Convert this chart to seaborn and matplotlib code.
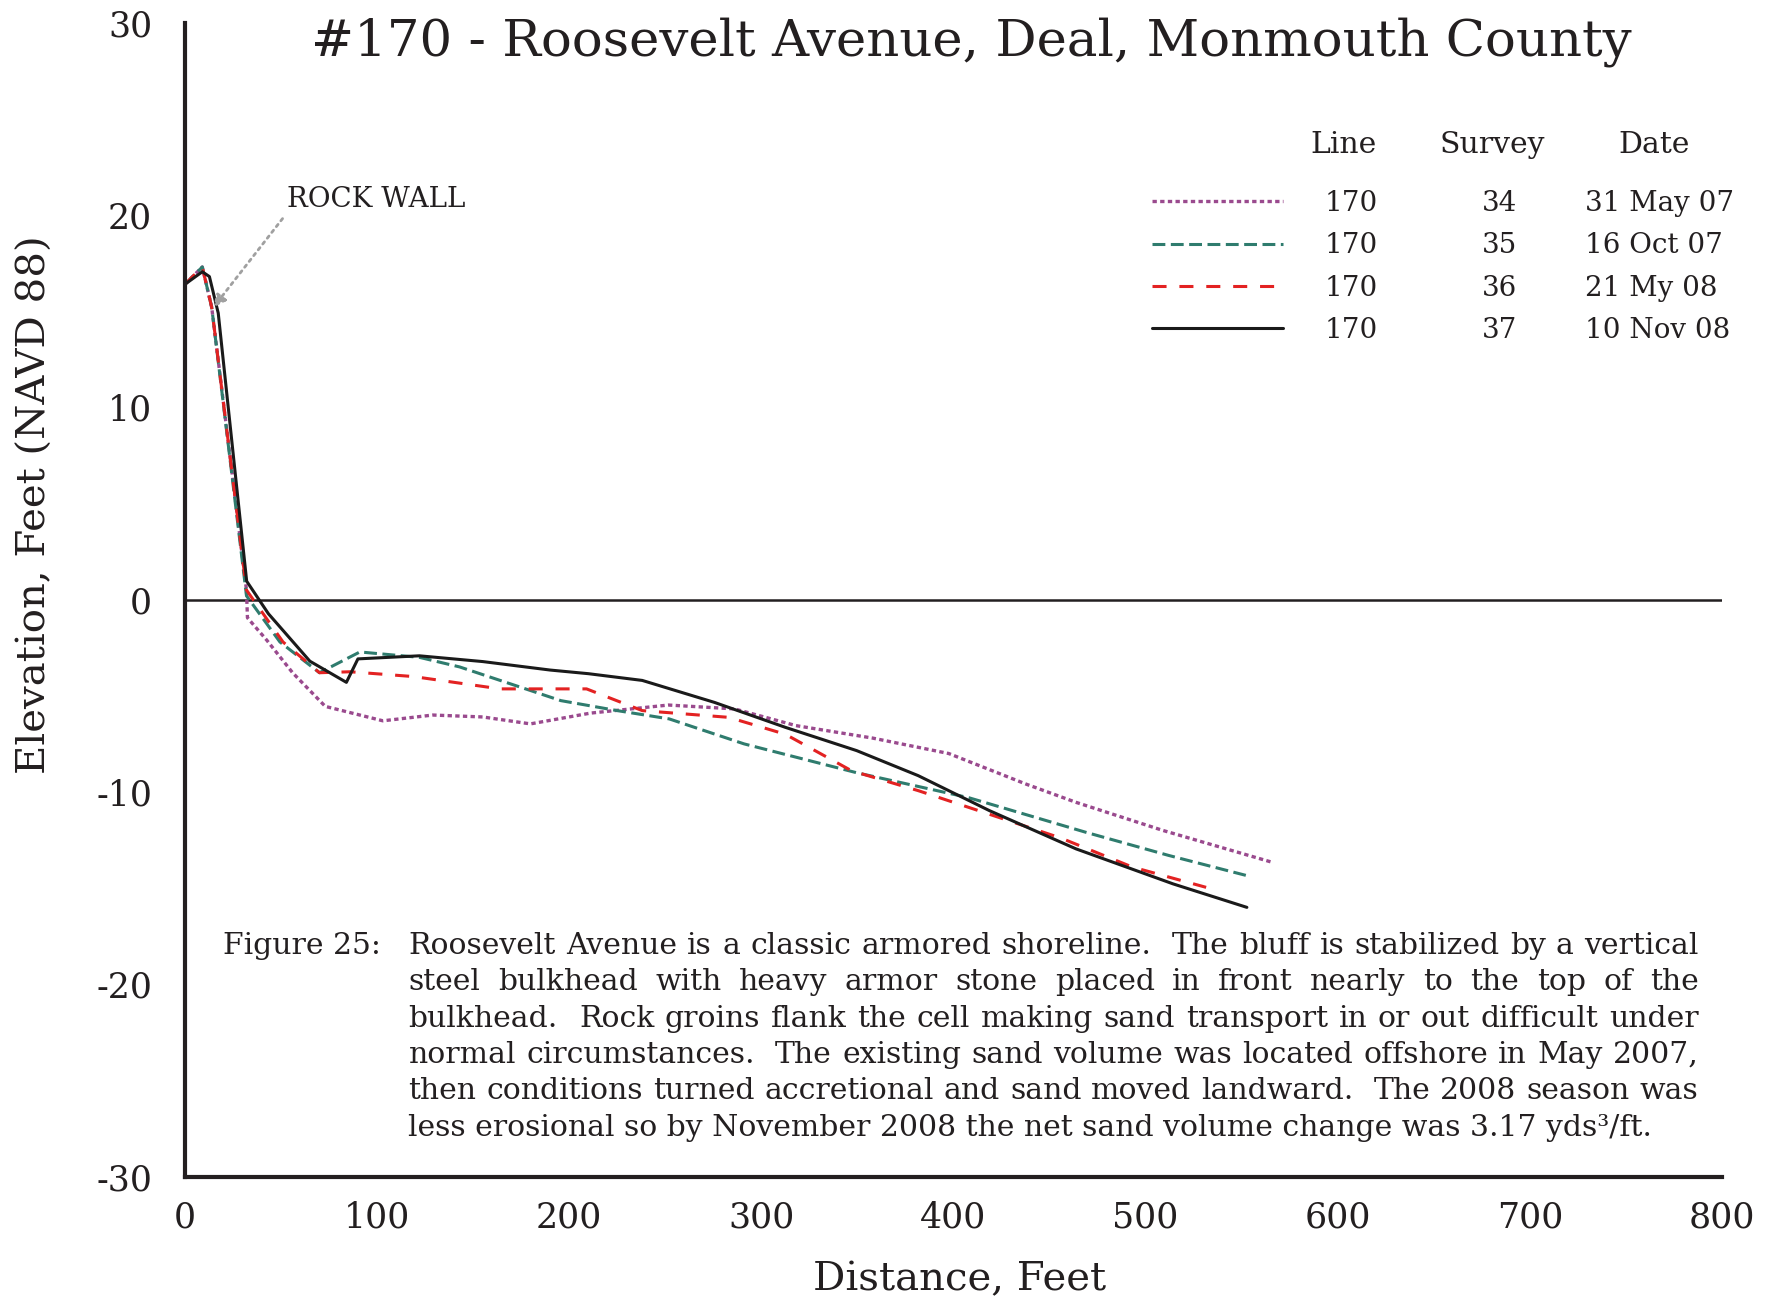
import re
import numpy as np
import matplotlib
matplotlib.use("Agg")
import matplotlib.pyplot as plt
import seaborn as sns

# survey profiles, line 170 (distance ft, elevation ft NAVD88)
dist_34 = [0, 9, 13.9, 32, 32.5, 42.5, 56, 73, 103, 129, 155, 179.8, 211, 251.6, 286, 318, 358, 397.5, 438, 463.8, 509, 566]
elev_34 = [16.4, 17.3, 15.2, 0.5, -0.94, -2.1, -3.8, -5.55, -6.3, -6.0, -6.1, -6.46, -5.9, -5.48, -5.68, -6.55, -7.2, -8.0, -9.6, -10.54, -12.0, -13.66]

dist_35 = [0, 9, 13.9, 32, 49.4, 70, 91, 122, 143, 195.6, 225, 252, 291, 349.6, 408, 469, 512, 552.7]
elev_35 = [16.4, 17.3, 15.2, 0.2, -2.2, -3.8, -2.72, -3.0, -3.5, -5.25, -5.77, -6.2, -7.5, -9.0, -10.3, -12.1, -13.3, -14.35]

dist_36 = [0, 9, 13.9, 32, 51, 70, 86, 119, 164, 209, 238, 283, 312.5, 347, 381.6, 413, 456, 493, 531.5]
elev_36 = [16.4, 17.3, 15.2, 0.5, -2.2, -3.8, -3.75, -4.0, -4.64, -4.64, -5.77, -6.12, -7.0, -8.9, -9.93, -10.97, -12.4, -13.9, -14.96]

dist_37 = [0, 9, 12.7, 17.3, 32.1, 43.4, 65, 84, 90, 122, 155, 190, 210, 238, 275.5, 312.5, 349.6, 381.6, 418.7, 463.8, 514.3, 552.7]
elev_37 = [16.4, 17.05, 16.8, 14.9, 0.96, -0.73, -3.2, -4.3, -3.08, -2.92, -3.22, -3.66, -3.85, -4.2, -5.34, -6.64, -7.85, -9.15, -10.97, -12.96, -14.78, -16.0]

line_ids = ["170", "170", "170", "170"]
surveys = ["34", "35", "36", "37"]
dates = ["31 May 07", "16 Oct 07", "21 My 08", "10 Nov 08"]

x_ticks = [0, 100, 200, 300, 400, 500, 600, 700, 800]
y_ticks = [-30, -20, -10, 0, 10, 20, 30]

caption = [
    "Roosevelt Avenue is a classic armored shoreline.  The bluff is stabilized by a vertical",
    "steel bulkhead with heavy armor stone placed in front nearly to the top of the",
    "bulkhead.  Rock groins flank the cell making sand transport in or out difficult under",
    "normal circumstances.  The existing sand volume was located offshore in May 2007,",
    "then conditions turned accretional and sand moved landward.  The 2008 season was",
    "less erosional so by November 2008 the net sand volume change was 3.17 yds\u00b3/ft.",
]

sns.set_style("white")
plt.rcParams["font.family"] = ["DejaVu Serif"]
ink = "#231f20"

W, H = 1779, 1301
fig = plt.figure(figsize=(W / 100, H / 100), dpi=100)
ax = fig.add_axes([185 / W, 1 - 1176.6 / H, 1537 / W, 1153.9 / H])

styles = [
    (dist_34, elev_34, "#9a4a8e", (0, (1.3, 1.0)), 2.4),
    (dist_35, elev_35, "#2f7c6e", (0, (4.2, 1.8)), 2.2),
    (dist_36, elev_36, "#e32222", (0, (4.6, 4.2)), 2.2),
    (dist_37, elev_37, "#1a1a1a", "-", 2.2),
]
handles = []
for d, e, c, ls, lw in styles:
    sns.lineplot(x=d, y=e, ax=ax, color=c, linestyle=ls, linewidth=lw,
                 sort=False, estimator=None)
    handles.append(ax.lines[-1])

ax.axhline(0, color=ink, lw=1.8, zorder=0)

ax.set_xlim(0, 800)
ax.set_ylim(-30, 30)
ax.set_xticks(x_ticks)
ax.set_yticks(y_ticks)
ax.set_xticklabels([str(v) for v in x_ticks], fontsize=25, color=ink)
ax.set_yticklabels([str(v) for v in y_ticks], fontsize=25, color=ink)
ax.tick_params(axis="y", direction="inout", length=31, width=1.5, pad=8, color=ink)
ax.tick_params(axis="x", direction="inout", length=23, width=1.5, pad=6, color=ink)
for s in ["top", "right"]:
    ax.spines[s].set_visible(False)
for s in ["left", "bottom"]:
    ax.spines[s].set_linewidth(3)
    ax.spines[s].set_color(ink)

ax.set_xlabel("Distance, Feet", fontsize=29, color=ink, va="center")
ax.xaxis.set_label_coords(0.504, -0.0896)
ax.set_ylabel("Elevation, Feet (NAVD 88)", fontsize=29, color=ink, va="center")
ax.yaxis.set_label_coords(-0.0976, 0.582)

fig.text(971 / W, 1 - 42 / H, "#170 - Roosevelt Avenue, Deal, Monmouth County",
         fontsize=37, color=ink, ha="center", va="center")

ax.annotate("ROCK WALL", xy=(14.8, 15.2), xytext=(53, 20.8), fontsize=20,
            color=ink, ha="left", va="center",
            arrowprops=dict(arrowstyle="-|>", linestyle=":", color="#a0a0a0",
                            lw=2, shrinkA=2, shrinkB=0, mutation_scale=18,
                            relpos=(0.0, 0.0)))

leg = ax.legend(handles, line_ids, frameon=False, fontsize=20, loc="upper left",
                bbox_to_anchor=(1152 / W, 1 - 190 / H), bbox_transform=fig.transFigure,
                handlelength=4.7, handletextpad=1.5, labelspacing=0.55, borderpad=0,
                borderaxespad=0)
for t in leg.get_texts():
    t.set_color(ink)

fig.canvas.draw()
renderer = fig.canvas.get_renderer()
row_y = []
for t in leg.get_texts():
    bb = t.get_window_extent(renderer)
    row_y.append((bb.y0 + bb.y1) / 2 / H)
for yy, s, dt in zip(row_y, surveys, dates):
    fig.text(1500 / W, yy, s, fontsize=20, color=ink, ha="center", va="center")
    fig.text(1585 / W, yy, dt, fontsize=20, color=ink, ha="left", va="center")
for xx, s in [(1343, "Line"), (1492, "Survey"), (1654, "Date")]:
    fig.text(xx / W, 1 - 145 / H, s, fontsize=21.5, color=ink, ha="center", va="center")

# caption, justified like the original
cap_fs = 21.5
x0, x1 = 408.5, 1698.5
fig.text(223.5 / W, 1 - 954 / H, "Figure 25:", fontsize=cap_fs, color=ink, ha="left", va="baseline")


def width_px(s):
    t = fig.text(0, 0, s, fontsize=cap_fs)
    w = t.get_window_extent(renderer).width
    t.remove()
    return w


for i, line in enumerate(caption):
    yb = 1 - (954 + 36.3 * i) / H
    if i == len(caption) - 1:
        fig.text(x0 / W, yb, line, fontsize=cap_fs, color=ink, ha="left", va="baseline")
        continue
    parts = re.findall(r"(\S+)(\s*)", line)
    toks = [p[0] for p in parts]
    gaps = [len(p[1]) for p in parts[:-1]]
    widths = [width_px(w) for w in toks]
    unit = (x1 - x0 - sum(widths)) / sum(gaps)
    x = x0
    for k, w in enumerate(toks):
        fig.text(x / W, yb, w, fontsize=cap_fs, color=ink, ha="left", va="baseline")
        if k < len(gaps):
            x += widths[k] + unit * gaps[k]

fig.savefig("out.png", dpi=100)
